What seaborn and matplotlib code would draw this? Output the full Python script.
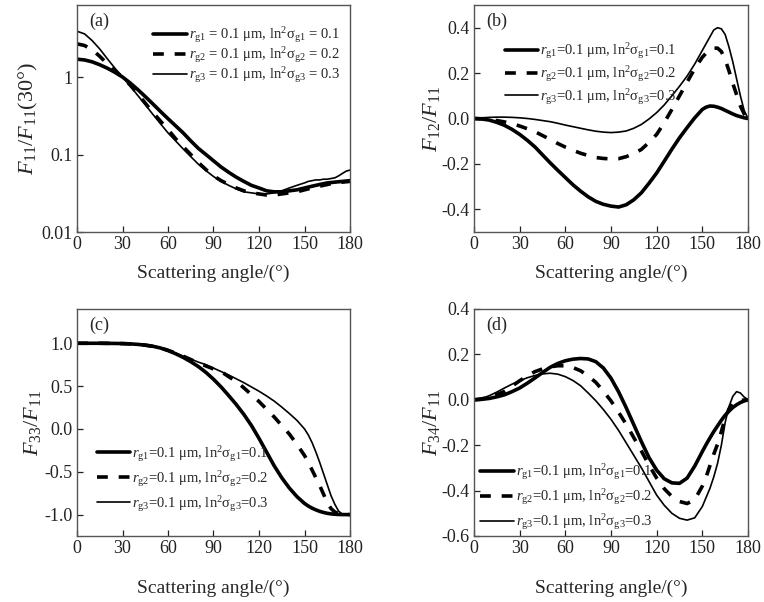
import numpy as np
import pandas as pd
import matplotlib
matplotlib.use("Agg")
import matplotlib.pyplot as plt
import seaborn as sns

# ---------------- data ----------------
# 5-degree steps up to 150, then 2.5-degree steps toward backscatter
angle = list(range(0, 151, 5)) + [152.5, 155, 157.5, 160, 162.5, 165,
                                  167.5, 170, 172.5, 175, 177.5, 180]

# (a) F11 / F11(30 deg)
f11_g1 = [1.70, 1.66, 1.57, 1.44, 1.30, 1.15, 1.00, 0.84, 0.69, 0.56, 0.45, 0.36, 0.29,
          0.235, 0.19, 0.15, 0.12, 0.10, 0.083, 0.069, 0.059, 0.051, 0.045, 0.040, 0.037,
          0.034, 0.033, 0.033, 0.034, 0.035, 0.037,
          0.038, 0.039, 0.040, 0.041, 0.042, 0.043, 0.0435, 0.044, 0.0445, 0.045, 0.0455, 0.046]
f11_g2 = [2.68, 2.55, 2.25, 1.85, 1.48, 1.20, 1.00, 0.79, 0.61, 0.46, 0.35, 0.27, 0.21,
          0.16, 0.126, 0.10, 0.079, 0.064, 0.053, 0.046, 0.041, 0.037, 0.034, 0.032, 0.031,
          0.030, 0.030, 0.031, 0.032, 0.033, 0.035,
          0.036, 0.037, 0.038, 0.039, 0.040, 0.041, 0.042, 0.043, 0.0435, 0.044, 0.0445, 0.045]
f11_g3 = [3.90, 3.60, 2.95, 2.30, 1.72, 1.30, 1.00, 0.77, 0.58, 0.44, 0.33, 0.25, 0.19,
          0.15, 0.118, 0.094, 0.075, 0.062, 0.052, 0.045, 0.040, 0.036, 0.033, 0.032, 0.031,
          0.031, 0.032, 0.034, 0.037, 0.040, 0.043,
          0.045, 0.046, 0.047, 0.047, 0.048, 0.048, 0.049, 0.050, 0.053, 0.057, 0.061, 0.063]

# (b) F12 / F11
f12_g1 = [0.0, -0.002, -0.007, -0.017, -0.030, -0.048, -0.070, -0.096, -0.125, -0.160,
          -0.195, -0.228, -0.260, -0.292, -0.320, -0.345, -0.365, -0.378, -0.386, -0.390,
          -0.380, -0.358, -0.327, -0.285, -0.240, -0.188, -0.135, -0.085, -0.040, 0.003,
          0.040,
          0.050, 0.055, 0.054, 0.050, 0.044, 0.036, 0.028, 0.020, 0.013, 0.008, 0.003, 0.0]
f12_g2 = [0.0, -0.001, -0.004, -0.009, -0.015, -0.023, -0.033, -0.045, -0.058, -0.075,
          -0.092, -0.110, -0.126, -0.140, -0.153, -0.163, -0.172, -0.176, -0.178, -0.177,
          -0.168, -0.155, -0.136, -0.105, -0.070, -0.018, 0.040, 0.100, 0.160, 0.220,
          0.270,
          0.288, 0.300, 0.310, 0.310, 0.295, 0.260, 0.210, 0.155, 0.105, 0.055, 0.020, 0.0]
f12_g3 = [0.0, 0.003, 0.005, 0.006, 0.006, 0.005, 0.003, 0.0, -0.004, -0.009, -0.014,
          -0.021, -0.029, -0.036, -0.043, -0.050, -0.056, -0.060, -0.062, -0.060, -0.055,
          -0.043, -0.026, -0.002, 0.026, 0.060, 0.100, 0.142, 0.187, 0.240, 0.300,
          0.330, 0.360, 0.390, 0.400, 0.395, 0.370, 0.315, 0.250, 0.175, 0.100, 0.035, 0.0]

# (c) F33 / F11
f33_g1 = [1.0, 1.0, 1.0, 1.0, 0.999, 0.998, 0.996, 0.993, 0.987, 0.978, 0.965, 0.945,
          0.915, 0.878, 0.835, 0.785, 0.728, 0.660, 0.580, 0.490, 0.390, 0.285, 0.170,
          0.040, -0.110, -0.270, -0.430, -0.570, -0.690, -0.790, -0.870,
          -0.900, -0.925, -0.945, -0.962, -0.975, -0.985, -0.992, -0.996, -0.999, -1.0, -1.0, -1.0]
f33_g2 = [1.0, 1.0, 1.0, 1.0, 0.999, 0.998, 0.996, 0.993, 0.987, 0.978, 0.965, 0.945,
          0.918, 0.885, 0.850, 0.810, 0.770, 0.735, 0.700, 0.670, 0.610, 0.555, 0.480,
          0.400, 0.320, 0.230, 0.140, 0.040, -0.060, -0.180, -0.310,
          -0.390, -0.480, -0.570, -0.660, -0.760, -0.860, -0.930, -0.970, -0.990, -1.0, -1.0, -1.0]
f33_g3 = [1.0, 1.0, 1.0, 1.0, 0.999, 0.998, 0.996, 0.993, 0.987, 0.978, 0.965, 0.945,
          0.918, 0.885, 0.850, 0.815, 0.780, 0.750, 0.710, 0.670, 0.630, 0.585, 0.540,
          0.490, 0.440, 0.385, 0.325, 0.255, 0.180, 0.100, 0.000,
          -0.070, -0.160, -0.270, -0.390, -0.520, -0.650, -0.780, -0.880, -0.960, -0.995, -1.0, -1.0]

# (d) F34 / F11
f34_g1 = [0.0, 0.002, 0.006, 0.013, 0.022, 0.036, 0.052, 0.073, 0.096, 0.120, 0.143,
          0.160, 0.172, 0.179, 0.182, 0.180, 0.168, 0.140, 0.095, 0.035, -0.035, -0.110,
          -0.185, -0.255, -0.310, -0.348, -0.366, -0.368, -0.345, -0.292, -0.228,
          -0.197, -0.168, -0.140, -0.115, -0.090, -0.068, -0.050, -0.034, -0.022, -0.012, -0.005, 0.0]
f34_g2 = [0.0, 0.004, 0.012, 0.023, 0.037, 0.060, 0.084, 0.105, 0.124, 0.136, 0.145,
          0.150, 0.150, 0.142, 0.128, 0.105, 0.077, 0.038, -0.005, -0.055, -0.108, -0.167,
          -0.226, -0.288, -0.345, -0.392, -0.426, -0.448, -0.457, -0.440, -0.380,
          -0.340, -0.290, -0.240, -0.195, -0.140, -0.080, -0.040, -0.015, -0.006, -0.003, -0.001, 0.0]
f34_g3 = [0.0, 0.006, 0.018, 0.034, 0.052, 0.069, 0.084, 0.097, 0.107, 0.114, 0.117,
          0.113, 0.102, 0.085, 0.062, 0.030, -0.004, -0.043, -0.086, -0.135, -0.190,
          -0.245, -0.300, -0.360, -0.420, -0.465, -0.500, -0.522, -0.530, -0.520, -0.470,
          -0.430, -0.390, -0.340, -0.280, -0.200, -0.100, -0.030, 0.015, 0.036, 0.030, 0.012, 0.0]

x_ticks = [0, 30, 60, 90, 120, 150, 180]

labels_a = [r"$r_{\rm g1}$ = 0.1 μm, ln$^2$σ$_{\rm g1}$ = 0.1",
            r"$r_{\rm g2}$ = 0.1 μm, ln$^2$σ$_{\rm g2}$ = 0.2",
            r"$r_{\rm g3}$ = 0.1 μm, ln$^2$σ$_{\rm g3}$ = 0.3"]
labels = [r"$r_{\rm g1}$=0.1 μm, ln$^2$σ$_{\rm g1}$=0.1",
          r"$r_{\rm g2}$=0.1 μm, ln$^2$σ$_{\rm g2}$=0.2",
          r"$r_{\rm g3}$=0.1 μm, ln$^2$σ$_{\rm g3}$=0.3"]

# ---------------- style ----------------
sns.set_theme(style="ticks")
plt.rcParams["font.family"] = ["Liberation Serif", "DejaVu Serif"]
plt.rcParams["mathtext.fontset"] = "custom"
plt.rcParams["mathtext.rm"] = "Liberation Serif"
plt.rcParams["mathtext.it"] = "Liberation Serif:italic"
plt.rcParams["mathtext.bf"] = "Liberation Serif:bold"

line_styles = [dict(lw=2.6, ls="-"),
               dict(lw=2.6, ls=(0, (3, 3))),
               dict(lw=1.2, ls="-")]

fig = plt.figure(figsize=(7.64, 6.02), dpi=100)
W, H = 764, 602


def make_axes(l, t, r, b):
    return fig.add_axes([l / W, 1 - b / H, (r - l) / W, (b - t) / H])


ax_a = make_axes(77, 5, 350, 232)
ax_b = make_axes(474, 5, 748, 232)
ax_c = make_axes(77, 309, 350, 536)
ax_d = make_axes(474, 309, 748, 536)

panels = [
    (ax_a, [f11_g1, f11_g2, f11_g3], labels_a, "(a)"),
    (ax_b, [f12_g1, f12_g2, f12_g3], labels, "(b)"),
    (ax_c, [f33_g1, f33_g2, f33_g3], labels, "(c)"),
    (ax_d, [f34_g1, f34_g2, f34_g3], labels, "(d)"),
]

for ax, series, labs, tag in panels:
    for vals, lab, st in zip(series, labs, line_styles):
        df = pd.DataFrame({"angle": angle, "value": vals})
        sns.lineplot(data=df, x="angle", y="value", ax=ax, color="black",
                     linewidth=st["lw"], linestyle=st["ls"], label=lab)
    ax.set_xlim(0, 180)
    ax.set_xticks(x_ticks)
    ax.tick_params(direction="in", length=4, width=0.9, labelsize=13,
                   colors="#222222", pad=3)
    for sp in ax.spines.values():
        sp.set_color("#555555")
        sp.set_linewidth(1.0)
    ax.text(0.045, 0.965, tag, transform=ax.transAxes, fontsize=13,
            ha="left", va="top")

# (a)
ax_a.set_yscale("log")
ax_a.set_ylim(0.01, 8.5)
ax_a.set_yticks([0.01, 0.1, 1])
ax_a.set_yticklabels(["0.01", "0.1", "1"])
ax_a.yaxis.set_minor_locator(matplotlib.ticker.NullLocator())
ax_a.set_ylabel(r"$F_{11}/F_{11}$(30°)", fontsize=16, labelpad=1)

# (b)
ax_b.set_ylim(-0.5, 0.5)
ax_b.set_yticks([-0.4, -0.2, 0.0, 0.2, 0.4])
ax_b.set_yticklabels(["-0.4", "-0.2", "0.0", "0.2", "0.4"])
ax_b.set_ylabel(r"$F_{12}/F_{11}$", fontsize=16, labelpad=0)

# (c)
ax_c.set_ylim(-1.25, 1.4)
ax_c.set_yticks([-1.0, -0.5, 0.0, 0.5, 1.0])
ax_c.set_yticklabels(["-1.0", "-0.5", "0.0", "0.5", "1.0"])
ax_c.set_ylabel(r"$F_{33}/F_{11}$", fontsize=16, labelpad=1)

# (d)
ax_d.set_ylim(-0.6, 0.4)
ax_d.set_yticks([-0.6, -0.4, -0.2, 0.0, 0.2, 0.4])
ax_d.set_yticklabels(["-0.6", "-0.4", "-0.2", "0.0", "0.2", "0.4"])
ax_d.set_ylabel(r"$F_{34}/F_{11}$", fontsize=16, labelpad=0)

for ax in (ax_a, ax_b):
    ax.set_xlabel("Scattering angle/(°)", fontsize=14, labelpad=8)
for ax in (ax_c, ax_d):
    ax.set_xlabel("Scattering angle/(°)", fontsize=14, labelpad=16)

leg_kw = dict(frameon=False, fontsize=10.5, handlelength=2.3, handletextpad=0.15,
              borderaxespad=0.2)
ax_a.legend(loc="upper right", bbox_to_anchor=(0.995, 0.95), labelspacing=0.02, **leg_kw)
ax_b.legend(loc="upper left", bbox_to_anchor=(0.08, 0.88), labelspacing=0.2, **leg_kw)
ax_c.legend(loc="lower left", bbox_to_anchor=(0.04, 0.06), labelspacing=0.35, **leg_kw)
ax_d.legend(loc="lower left", bbox_to_anchor=(-0.01, -0.02), labelspacing=0.35, **leg_kw)

fig.savefig("out.png", dpi=100)
